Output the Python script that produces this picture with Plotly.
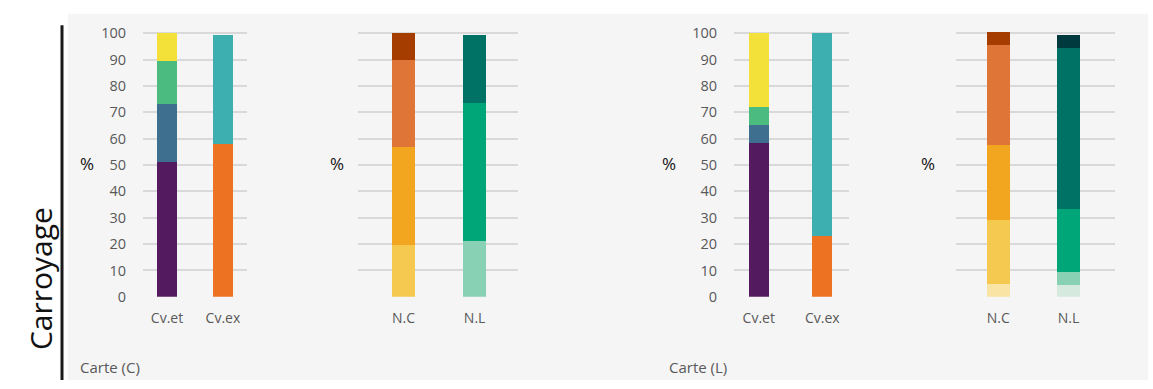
import plotly.graph_objects as go

W, H = 1153, 389

# ---- data (bottom-to-top stacked segments, %) ----
cats_cv = ["Cv.et", "Cv.ex"]
cats_n = ["N.C", "N.L"]

C_cvet = [51, 22, 16.5, 10.5]
C_cvex = [58, 41.5]
C_nc = [19.5, 37.5, 33, 10]
C_nl = [21, 52.5, 26]

L_cvet = [58.5, 6.5, 7, 28]
L_cvex = [23, 77]
L_nc = [5, 24, 28.5, 38, 5]
L_nl = [4.5, 5, 24, 61, 5]

col_cvet = ["#541a5f", "#3e6f8e", "#4cbb7f", "#f3e13a"]
col_cvex = ["#ed7323", "#3eafb0"]
col_nc = ["#f9e4a5", "#f5c94f", "#f2a51e", "#e07538", "#a53c00"]
col_nl = ["#d5e9df", "#88d1b4", "#00a677", "#007165", "#003a3e"]

y_ticks = list(range(0, 101, 10))
panel_titles = ["Carte (C)", "Carte (L)"]
row_title = "Carroyage"

def px(x):
    return x / W

def py(y):
    return (H - y) / H

fig = go.Figure()

panels = [
    (1, cats_cv, [(C_cvet, col_cvet), (C_cvex, col_cvex)], (143, 247), (-0.43, 1.43), 0.36, True),
    (2, cats_n, [(C_nc, col_nc[1:]), (C_nl, col_nl[1:])], (358, 518), (-0.64, 1.61), 0.32, False),
    (3, cats_cv, [(L_cvet, col_cvet), (L_cvex, col_cvex)], (734, 849), (-0.39, 1.42), 0.32, True),
    (4, cats_n, [(L_nc, col_nc), (L_nl, col_nl)], (956, 1115), (-0.60, 1.66), 0.33, False),
]

ydom = [py(302.5), py(302.5 - 101.5 * 2.742)]

for idx, cats, groups, xd, xr, bw, show_lab in panels:
    xa = "x" if idx == 1 else f"x{idx}"
    ya = "y" if idx == 1 else f"y{idx}"
    for cat, (vals, cols) in zip(cats, groups):
        for v, c in zip(vals, cols):
            fig.add_trace(go.Bar(
                x=[cat], y=[v], width=bw, marker=dict(color=c, line=dict(width=0)),
                xaxis=xa, yaxis=ya, showlegend=False, hoverinfo="y"))
    key = "" if idx == 1 else str(idx)
    fig.layout["xaxis" + key] = dict(
        domain=[px(xd[0]), px(xd[1])], type="category", categoryorder="array",
        categoryarray=cats, range=list(xr), showgrid=False, zeroline=False,
        showline=False, ticks="", ticklabelstandoff=11,
        tickfont=dict(family="Open Sans", size=14, color="#595959"),
        anchor=ya, fixedrange=True)
    fig.layout["yaxis" + key] = dict(
        domain=ydom, range=[0, 101.5], tickvals=y_ticks, showgrid=True,
        gridcolor="#d9d9d9", gridwidth=1.5, zeroline=False, showline=False,
        showticklabels=show_lab, ticks="", ticklabelstandoff=16,
        tickfont=dict(family="Open Sans", size=14.5, color="#595959"),
        anchor=xa, fixedrange=True)

fig.update_layout(barmode="stack")

fig.add_shape(type="rect", xref="paper", yref="paper", x0=px(68), x1=px(1148),
              y0=0, y1=py(8), fillcolor="#f5f5f5", line=dict(width=0), layer="below")
fig.add_shape(type="line", xref="paper", yref="paper", x0=px(62), x1=px(62),
              y0=0, y1=py(20), line=dict(color="#1a1a1a", width=3))

annotations = []
for xp in [87, 337, 669, 928]:
    annotations.append(dict(text="%", x=px(xp), y=py(164), xref="paper", yref="paper",
                            showarrow=False, font=dict(family="Open Sans", size=17, color="#111111"),
                            xanchor="center", yanchor="middle"))
for xp, t in zip([78, 667], panel_titles):
    annotations.append(dict(text=t, x=px(xp), y=py(375), xref="paper", yref="paper",
                            showarrow=False, font=dict(family="Open Sans", size=15, color="#595959"),
                            xanchor="left", yanchor="middle"))
annotations.append(dict(text=row_title, x=px(40), y=py(284), xref="paper", yref="paper",
                        showarrow=False, textangle=-90,
                        font=dict(family="Open Sans", size=30, color="#111111"),
                        xanchor="center", yanchor="middle"))

fig.update_layout(
    width=W, height=H, margin=dict(l=0, r=0, t=0, b=0),
    paper_bgcolor="white", plot_bgcolor="rgba(0,0,0,0)",
    annotations=annotations,
)

fig.write_html(
    "out.html",
    config={"displayModeBar": False, "responsive": False},
    post_script=(
        "document.documentElement.style.margin='0';"
        "document.body.style.margin='0';document.body.style.overflow='hidden';"
        "var d=document.getElementById('{plot_id}');"
        "d.style.position='fixed';d.style.left='0px';d.style.top='0px';"
    ),
)
